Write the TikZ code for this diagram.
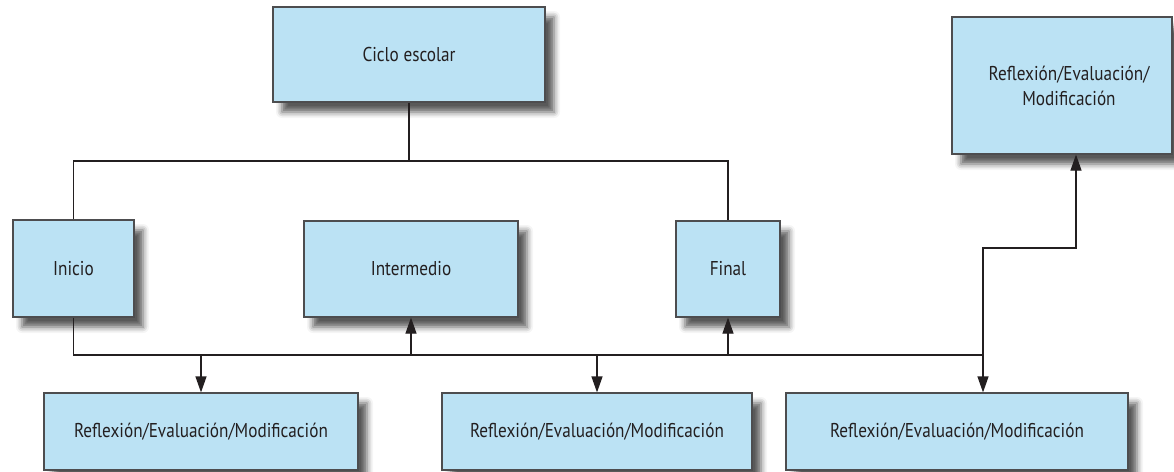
\documentclass[tikz,border=0pt]{standalone}
\usepackage{fontspec}
\setmainfont[FakeStretch=0.86]{PT Sans}
\usetikzlibrary{arrows.meta,shadows.blur}
\definecolor{azulcaja}{HTML}{BBE2F4}
\definecolor{bordecaja}{HTML}{4D4D4F}
\definecolor{linea}{HTML}{231F20}
\begin{document}
\begin{tikzpicture}[
    x=1pt, y=-1pt,
    caja/.style={
        draw=bordecaja,
        fill=azulcaja,
        line width=1.2pt,
        rectangle,
        align=center,
        inner sep=0pt,
        font=\fontsize{20}{25}\selectfont\color{linea},
        blur shadow={shadow xshift=9pt, shadow yshift=-10pt,
            shadow blur radius=6pt, shadow opacity=65}
    },
    conector/.style={draw=linea, line width=1.2pt},
    >={Triangle[length=16pt,width=11pt]}
    ]
\useasboundingbox (0,0) rectangle (1174,471);

\node[caja, minimum width=272pt, minimum height=95pt] (ciclo) at (409,54.5) {Ciclo escolar};
\node[caja, minimum width=121pt, minimum height=97pt] (inicio) at (73.5,268.5) {Inicio};
\node[caja, minimum width=214pt, minimum height=96pt] (intermedio) at (411,269) {Intermedio};
\node[caja, minimum width=104pt, minimum height=96pt] (final) at (728,269) {Final};
\node[caja, minimum width=220pt, minimum height=137pt] (refArriba) at (1062,85.5) {\hspace*{14pt}Reflexión/Evaluación/\\\hspace*{14pt}Modificación};

\node[caja, minimum width=314pt, minimum height=77pt] (refA) at (201,431.5) {Reflexión/Evaluación/Modificación};
\node[caja, minimum width=310pt, minimum height=77pt] (refB) at (597,431.5) {Reflexión/Evaluación/Modificación};
\node[caja, minimum width=342pt, minimum height=77pt] (refC) at (957,431.5) {Reflexión/Evaluación/Modificación};

\coordinate (busArriba) at (409,161);
\coordinate (busAbajo) at (983,355);
\coordinate (giro) at (1076,248);

% rama superior
\draw[conector] (ciclo.south) -- (busArriba);
\draw[conector] (inicio.north) |- (busArriba) -| (final.north);

% rama inferior
\draw[conector] (inicio.south) |- (busAbajo);
\foreach \n in {intermedio,final}
    \draw[conector,->] (\n.south |- busAbajo) -- (\n.south);
\foreach \n in {refA,refB}
    \draw[conector,->] (\n.north |- busAbajo) -- (\n.north);
\draw[conector,->] (busAbajo) -- (busAbajo |- refC.north);
\draw[conector,->] (busAbajo) |- (giro) -- (giro |- refArriba.south);
\end{tikzpicture}
\end{document}
